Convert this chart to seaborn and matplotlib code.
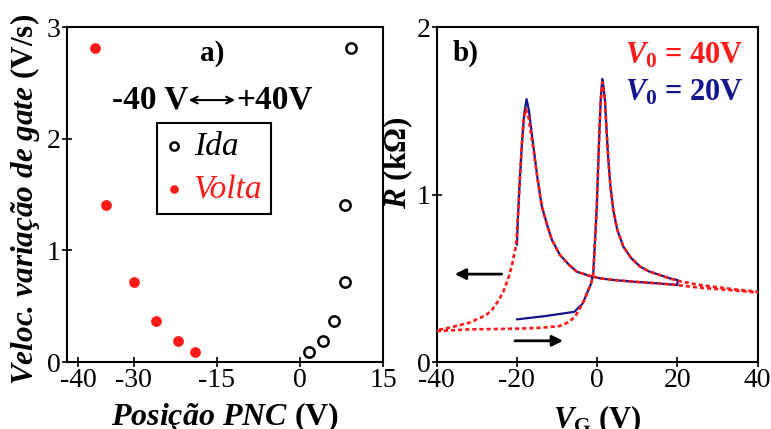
import numpy as np
import pandas as pd
import matplotlib
matplotlib.use("Agg")
import matplotlib.pyplot as plt
import seaborn as sns

# ---- panel a: sweep rate vs position of the charge neutrality point ----
rates = [2.81, 1.41, 0.72, 0.37, 0.19, 0.09]
ida_pnc = [9.2, 8.2, 8.2, 6.2, 4.1, 1.7]
volta_pnc = [-36.9, -35.0, -30.0, -26.0, -21.9, -18.9]

# ---- panel b: R(VG) hysteresis loops ----
# V0 = 40 V, forward (-40 -> 40) then back (40 -> -40)
red_v = [-40, -32, -24, -19, -14, -9.4, -6.9, -5.3, -3.6, -1.5, -0.97, -0.13, 0.45,
         0.87, 1.27, 1.6, 1.95, 2.3, 2.77, 3.3, 4.0, 5.0, 6.5, 8.5, 10.7, 13, 15.6,
         18, 20, 25.6, 33.9, 40,
         40, 33, 25, 20, 15, 9, 4, 0.7, -2, -5.1, -7, -9.3, -11.3, -12.5, -13.8,
         -14.9, -15.9, -16.5, -17.0, -17.8, -18.3, -18.8, -19.3, -19.7, -20.2,
         -21.3, -22.3, -23.4, -24.5, -26.3, -27.7, -31.9, -36.9, -40]
red_r = [0.185, 0.195, 0.198, 0.20, 0.205, 0.215, 0.24, 0.28, 0.35, 0.47, 0.53, 0.91, 1.31,
         1.56, 1.67, 1.63, 1.56, 1.40, 1.21, 1.05, 0.91, 0.79, 0.69, 0.62, 0.57, 0.54, 0.52,
         0.50, 0.485, 0.46, 0.435, 0.42,
         0.415, 0.43, 0.445, 0.46, 0.47, 0.48, 0.49, 0.50, 0.515, 0.54, 0.58, 0.64, 0.73, 0.82, 0.93,
         1.10, 1.27, 1.36, 1.45, 1.51, 1.45, 1.29, 1.08, 0.89, 0.70,
         0.57, 0.49, 0.42, 0.37, 0.31, 0.28, 0.235, 0.205, 0.19]

# V0 = 20 V, forward (-20 -> 20) then back (20 -> -20)
blue_v = [-20, -12.8, -5.7, -3.6, -1.5, -0.97, -0.13, 0.45, 0.87, 1.27, 1.6, 1.95, 2.3,
          2.77, 3.3, 4.0, 5.0, 6.5, 8.5, 10.7, 13, 15.6, 18, 20,
          20, 15, 9, 4, 0.7, -2, -5.1, -7, -9.3, -11.3, -12.5, -13.8, -14.9, -15.9,
          -16.5, -17.0, -17.6, -18.2, -18.8, -19.3, -19.7, -20]
blue_r = [0.255, 0.275, 0.30, 0.35, 0.47, 0.53, 0.91, 1.31, 1.56, 1.69, 1.64, 1.56, 1.40,
          1.21, 1.05, 0.91, 0.79, 0.69, 0.62, 0.57, 0.54, 0.52, 0.50, 0.49,
          0.46, 0.47, 0.48, 0.49, 0.50, 0.515, 0.54, 0.58, 0.64, 0.73, 0.82, 0.93, 1.10, 1.29,
          1.40, 1.50, 1.57, 1.48, 1.29, 1.08, 0.89, 0.70]

RED = "#ff1a1a"
NAVY = "#14148c"

sns.set_style("ticks")
plt.rcParams["font.family"] = ["Liberation Serif", "DejaVu Serif"]
plt.rcParams["mathtext.fontset"] = "custom"
plt.rcParams["mathtext.rm"] = "Liberation Serif:bold"
plt.rcParams["mathtext.it"] = "Liberation Serif:italic:bold"
plt.rcParams["mathtext.bf"] = "Liberation Serif:bold"
plt.rcParams["axes.unicode_minus"] = False
plt.rcParams["text.color"] = "black"
plt.rcParams["axes.labelcolor"] = "black"
plt.rcParams["xtick.color"] = "black"
plt.rcParams["ytick.color"] = "black"

fig = plt.figure(figsize=(7.71, 4.29), dpi=100)
ax1 = fig.add_axes([0.0869, 0.156, 0.4099, 0.781])
ax2 = fig.add_axes([0.5664, 0.156, 0.4163, 0.781])

for ax in (ax1, ax2):
    for s in ax.spines.values():
        s.set_linewidth(1.5)
        s.set_color("black")
    ax.tick_params(direction="inout", length=7, width=1.2, labelsize=20, pad=1,
                   colors="black")

# ---------- panel a ----------
sns.scatterplot(x=ida_pnc, y=rates, ax=ax1, marker="o", s=55, facecolor="white",
                edgecolor="black", linewidth=1.8, label="Ida", zorder=3)
sns.scatterplot(x=volta_pnc, y=rates, ax=ax1, marker="o", s=60, color=RED,
                edgecolor=RED, linewidth=0, label="Volta", zorder=3)
ax1.set_xlim(-42, 15)
ax1.set_ylim(0, 3)
ax1.set_xticks([-40, -30, -15, 0, 15])
ax1.set_yticks([0, 1, 2, 3])

leg = ax1.legend(loc="upper left", bbox_to_anchor=(0.285, 0.713), frameon=True,
                 fancybox=False, edgecolor="black", framealpha=1, borderpad=0.25,
                 borderaxespad=0, handletextpad=0.35, handlelength=0.5,
                 labelspacing=0.38, markerscale=0.8,
                 prop={"style": "italic", "size": 24})
leg.get_frame().set_linewidth(1.5)
leg.get_texts()[1].set_color(RED)

ax1.text(0.459, 0.922, "a)", transform=ax1.transAxes, ha="center", va="center",
         fontsize=21, fontweight="bold")
ax1.text(0.385, 0.782, "-40 V", transform=ax1.transAxes, ha="right", va="center",
         fontsize=24, fontweight="bold")
ax1.text(0.535, 0.782, "+40V", transform=ax1.transAxes, ha="left", va="center",
         fontsize=24, fontweight="bold")
ax1.annotate("", xy=(0.385, 0.782), xytext=(0.532, 0.782), xycoords="axes fraction",
             arrowprops=dict(arrowstyle="<->", lw=1.5, color="black",
                             mutation_scale=12, shrinkA=0, shrinkB=0))

ax1.set_xlabel("Posição PNC $\\mathrm{(V)}$", fontsize=23, fontweight="bold",
               fontstyle="italic")
ax1.xaxis.set_label_coords(0.5, -0.112)
ax1.set_ylabel("Veloc. variação de gate $\\mathrm{(V/s)}$", fontsize=22.5,
               fontweight="bold", fontstyle="italic")
ax1.yaxis.set_label_coords(-0.08, 0.484)

# ---------- panel b ----------
df_blue = pd.DataFrame({"VG": blue_v, "R": blue_r})
df_red = pd.DataFrame({"VG": red_v, "R": red_r})
sns.lineplot(data=df_blue, x="VG", y="R", ax=ax2, sort=False, estimator=None,
             color=NAVY, linewidth=1.6, zorder=2)
sns.lineplot(data=df_red, x="VG", y="R", ax=ax2, sort=False, estimator=None,
             color=RED, linewidth=1.9, linestyle=(0, (1.6, 1.1)), zorder=3)
ax2.set_xlim(-40, 40)
ax2.set_ylim(0, 2)
ax2.set_xticks([-40, -20, 0, 20, 40])
ax2.set_yticks([0, 1, 2])

ax2.annotate("", xy=(-35.5, 0.525), xytext=(-23.8, 0.525),
             arrowprops=dict(arrowstyle="-|>", lw=2, color="black",
                             mutation_scale=16, shrinkA=0, shrinkB=0))
ax2.annotate("", xy=(-8.5, 0.127), xytext=(-20.5, 0.127),
             arrowprops=dict(arrowstyle="-|>", lw=2, color="black",
                             mutation_scale=16, shrinkA=0, shrinkB=0))

ax2.text(0.09, 0.922, "b)", transform=ax2.transAxes, ha="center", va="center",
         fontsize=21, fontweight="bold")
ax2.text(0.955, 0.915, "$V_0$ = 40V", transform=ax2.transAxes, ha="right",
         va="center", fontsize=22, fontweight="bold", color=RED)
ax2.text(0.955, 0.805, "$V_0$ = 20V", transform=ax2.transAxes, ha="right",
         va="center", fontsize=22, fontweight="bold", color=NAVY)

ax2.set_xlabel("$V_\\mathrm{G}$ (V)", fontsize=22, fontweight="bold")
ax2.xaxis.set_label_coords(0.5, -0.122)
ax2.set_ylabel("$R$ (kΩ)", fontsize=22.5, fontweight="bold")
ax2.yaxis.set_label_coords(-0.068, 0.594)

fig.savefig("out.png", dpi=100)
